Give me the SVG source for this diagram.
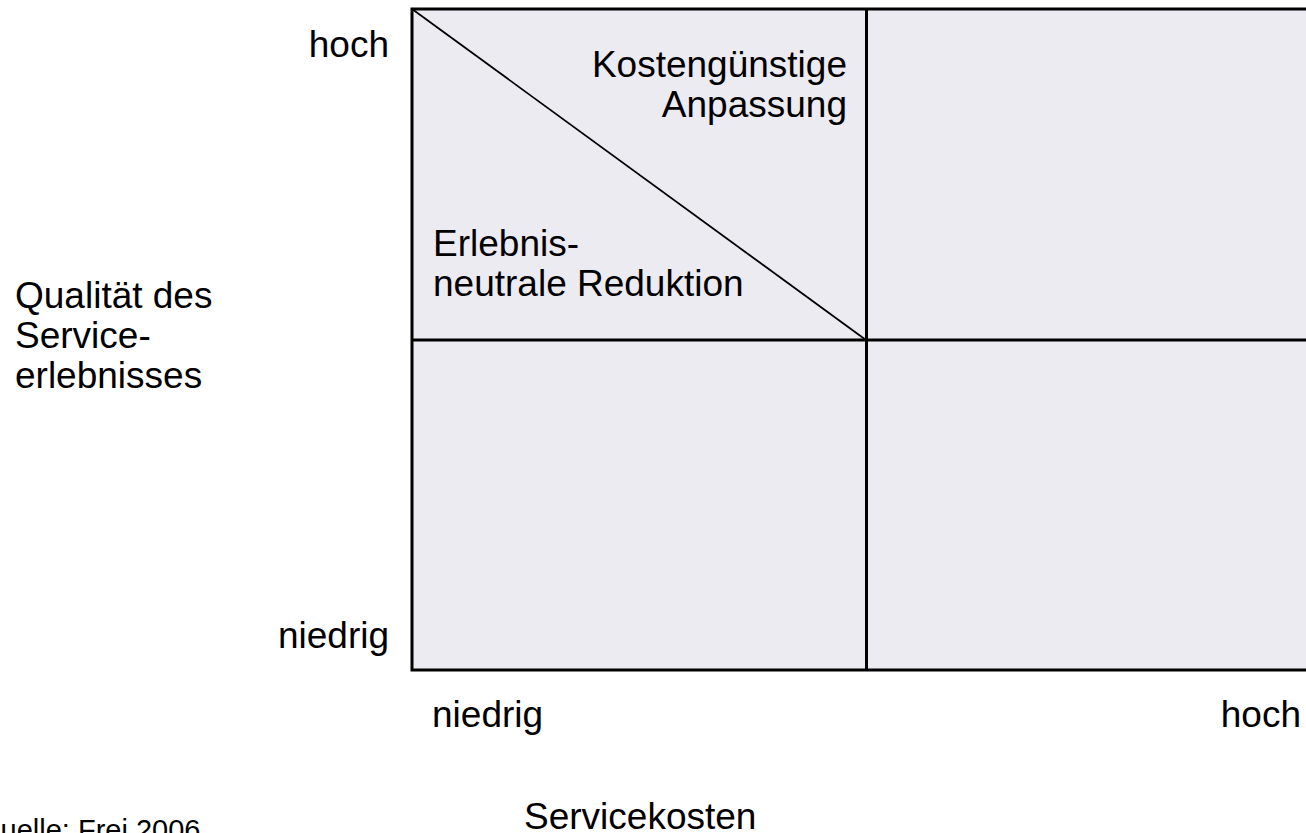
<svg xmlns="http://www.w3.org/2000/svg" width="1306" height="833" viewBox="0 0 1306 833">
<style>
text{font-family:"Liberation Sans",Arial,sans-serif;font-size:37px;fill:#000}
.grid{stroke:#000;stroke-width:3;fill:none}
</style>
<rect x="0" y="0" width="1306" height="833" fill="#fff"/>
<g id="matrix">
<rect x="412" y="9" width="910" height="661" fill="#ECEBF2" stroke="#000" stroke-width="3"/>
</g>
<g id="connectors">
<line class="grid" x1="866.5" y1="9" x2="866.5" y2="670"/>
<line class="grid" x1="412" y1="340" x2="1310" y2="340"/>
<line x1="412" y1="9" x2="866" y2="340" stroke="#000" stroke-width="1.8"/>
</g>
<g id="quadrant-labels">
<text x="847" y="77" text-anchor="end">Kostengünstige</text>
<text x="847" y="117" text-anchor="end">Anpassung</text>
<text x="433" y="256">Erlebnis-</text>
<text x="433" y="296">neutrale Reduktion</text>
</g>
<g id="y-axis">
<text x="389" y="57" text-anchor="end">hoch</text>
<text x="389" y="648" text-anchor="end">niedrig</text>
<text x="15" y="308">Qualität des</text>
<text x="15" y="348">Service-</text>
<text x="15" y="388">erlebnisses</text>
</g>
<g id="x-axis">
<text x="432" y="727">niedrig</text>
<text x="1301" y="727" text-anchor="end">hoch</text>
<text x="524" y="829">Servicekosten</text>
</g>
<g id="source">
<text x="-22" y="840" style="font-size:29px">Quelle: Frei 2006</text>
</g>
</svg>
